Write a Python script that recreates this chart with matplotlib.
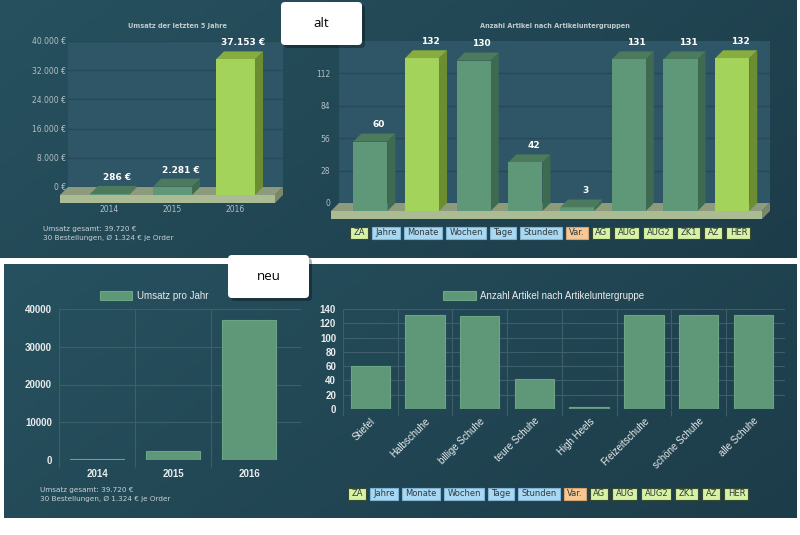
import numpy as np
import matplotlib
matplotlib.use('Agg')
import matplotlib.pyplot as plt
from matplotlib.patches import Polygon, Rectangle, FancyBboxPatch
from matplotlib.colors import LinearSegmentedColormap

W, H = 800, 535

# --- data -------------------------------------------------------------
jahre = ['2014', '2015', '2016']
umsatz = [286, 2281, 37153]
bestellungen = 30

gruppen = ['Stiefel', 'Halbschuhe', 'billige Schuhe', 'teure Schuhe',
           'High Heels', 'Freizeitschuhe', 'schöne Schuhe', 'alle Schuhe']
anzahl = [60, 132, 130, 42, 3, 131, 131, 132]

knoepfe = ['ZA', 'Jahre', 'Monate', 'Wochen', 'Tage', 'Stunden', 'Var.',
           'AG', 'AUG', 'AUG2', 'ZK1', 'AZ', 'HER']
knopf_art = ['za', 'zeit', 'zeit', 'zeit', 'zeit', 'zeit', 'var',
             'gruppe', 'gruppe', 'gruppe', 'gruppe', 'gruppe', 'gruppe']

# --- styles -----------------------------------------------------------
WALL = '#2e5666'
WALL_GRID = '#26485a'
OLD_TICK = '#b4c0c4'
GREEN = ('#5f9878', '#4b7a5c', '#3f6a52')   # front, top, side
LIME = ('#a3d35a', '#86ad3e', '#6d8d32')
FLOOR = ('#abbb94', '#8d9a7c', '#7b8868')  # front, top, side
NEW_BAR = '#5f9878'
GRID = '#3e5f6a'
KNOPF = {'za': ('#d6f2a4', '#3a4a30'), 'zeit': ('#a9d8f2', '#7fb4d4'),
         'var': ('#f5c895', '#d9a46e'), 'gruppe': ('#d6f2a4', '#3a4a30')}

plt.rcParams['font.family'] = 'DejaVu Sans'
fig = plt.figure(figsize=(W / 100, H / 100), dpi=100)
fig.patch.set_facecolor('white')


def ax_px(x0, y0, x1, y1):
    return fig.add_axes([x0 / W, 1 - y1 / H, (x1 - x0) / W, (y1 - y0) / H])


def de(v):
    return f'{v:,.0f}'.replace(',', '.')


# background with the two dark panels
bg = ax_px(0, 0, W, H)
bg.set_xlim(0, W)
bg.set_ylim(H, 0)
bg.axis('off')
bg_cmap = LinearSegmentedColormap.from_list('bg', ['#27515f', '#1d3c49'])
for (x0, y0, x1, y1) in [(0, 0, 797, 258), (4, 264, 797, 518)]:
    gx = np.linspace(0, 1, 200)
    gy = np.linspace(0, 1, 100)
    g = 0.7 * gx[None, :] + 0.3 * gy[:, None]
    bg.imshow(g, cmap=bg_cmap, extent=(x0, x1, y1, y0), aspect='auto',
              vmin=0, vmax=1, interpolation='bilinear')
bg.set_xlim(0, W)
bg.set_ylim(H, 0)


# --- old 3D-like charts -------------------------------------------------
def alt_chart(wall, ymax, step, vals, fmt, xlo, xhi, width, tick_pad,
              cats=None, d=8):
    x0, y0, x1, y1 = wall
    wb = ax_px(x0, y0, x1, y1)
    wb.set_facecolor(WALL)
    wb.set_xlim(0, 1)
    wb.set_ylim(0, ymax)
    ticks = np.arange(0, ymax + 1, step)
    if fmt is str:
        ticks = ticks[ticks <= ymax - step / 2]
    wb.set_yticks(ticks)
    wb.set_yticklabels([fmt(int(t)) for t in ticks])
    wb.set_xticks([])
    wb.tick_params(axis='y', length=0, pad=tick_pad, labelsize=5.5,
                   labelcolor=OLD_TICK)
    wb.grid(axis='y', color=WALL_GRID, lw=1)
    for s in wb.spines.values():
        s.set_visible(False)

    wf = ax_px(x0 - d, y0 + d, x1 - d, y1 + d)
    wf.patch.set_visible(False)
    wf.set_xlim(xlo, xhi)
    wf.set_ylim(0, ymax)
    for s in wf.spines.values():
        s.set_visible(False)
    wf.set_yticks([])
    if cats:
        wf.set_xticks(range(len(cats)))
        wf.set_xticklabels(cats)
        wf.tick_params(axis='x', length=0, pad=7.5, labelsize=5.5,
                       labelcolor=OLD_TICK)
    else:
        wf.set_xticks([])

    sx = (xhi - xlo) / (x1 - x0)
    sy = ymax / (y1 - y0)
    ddx, ddy, fh = d * sx, d * sy, 8 * sy

    # floor slab
    wf.add_patch(Polygon([(xlo, 0), (xhi, 0), (xhi + ddx, ddy), (xlo + ddx, ddy)],
                         fc=FLOOR[1], ec='none', clip_on=False, zorder=1))
    wf.add_patch(Rectangle((xlo, -fh), xhi - xlo, fh, fc=FLOOR[0], ec='none',
                           clip_on=False, zorder=1))
    wf.add_patch(Polygon([(xhi, 0), (xhi + ddx, ddy), (xhi + ddx, ddy - fh), (xhi, -fh)],
                         fc=FLOOR[2], ec='none', clip_on=False, zorder=1))

    top_val = max(vals)
    for i, v in enumerate(vals):
        front, top, side = LIME if v == top_val else GREEN
        l, r = i - width / 2, i + width / 2
        wf.add_patch(Polygon([(r, 0), (r + ddx, ddy), (r + ddx, v + ddy), (r, v)],
                             fc=side, ec='none', zorder=2, clip_on=False))
        wf.add_patch(Polygon([(l, v), (r, v), (r + ddx, v + ddy), (l + ddx, v + ddy)],
                             fc=top, ec='none', zorder=2, clip_on=False))
        wf.bar(i, v, width, color=front, zorder=3, clip_on=False)
        wf.annotate(fmt(v), (i + ddx, v + ddy), xytext=(0, 3),
                    textcoords='offset points', ha='center', va='bottom',
                    fontsize=6.5, fontweight='bold', color='white',
                    annotation_clip=False, zorder=4)
    return wb, wf


euro = lambda v: de(v) + ' €'
alt_chart((68, 41, 283, 187), 40000, 8000, umsatz, euro,
          -0.786, 2.627, 0.62, 1.5, cats=jahre)
alt_chart((339, 41, 770, 203), 140, 28, anzahl, str,
          -0.76, 7.577, 0.66, 6.5)

bg.text(177, 26, 'Umsatz der letzten 5 Jahre', ha='center', va='center',
        fontsize=4.8, fontweight='bold', color='#c0cace')
bg.text(555, 26, 'Anzahl Artikel nach Artikeluntergruppen', ha='center',
        va='center', fontsize=4.8, fontweight='bold', color='#c0cace')

footer = [f'Umsatz gesamt: {de(sum(umsatz))} €',
          f'{bestellungen} Bestellungen, Ø {de(sum(umsatz) / bestellungen)} € je Order']
for (fx, fy) in [(43, 229), (40, 490)]:
    for k, line in enumerate(footer):
        bg.text(fx, fy + 9 * k, line, ha='left', va='center', fontsize=5.2,
                color='#c8d2d6')


# --- new flat charts ----------------------------------------------------
NEWFONT = 'Liberation Sans'


def neu_chart(box, cats, vals, ymax, step, xhi, width, label, legend_c,
              rot=0):
    ax = ax_px(*box)
    ax.patch.set_visible(False)
    n = len(vals)
    bars = ax.bar(range(n), vals, width, color=NEW_BAR, edgecolor='#6aa584',
                  lw=0.8, label=label, zorder=2)
    ax.set_xlim(-0.5, xhi)
    ax.set_ylim(0, ymax)
    ax.set_yticks(np.arange(0, ymax + 1, step))
    ax.set_xticks(range(n))
    ax.set_xticks(np.arange(n) - 0.5, minor=True)
    ax.grid(axis='y', which='major', color=GRID, lw=0.8, alpha=1)
    ax.grid(axis='x', which='minor', color=GRID, lw=0.8, alpha=1)
    ax.tick_params(axis='x', which='minor', length=5, color=GRID, width=0.8)
    ax.tick_params(axis='y', length=0, pad=5)
    for s in ax.spines.values():
        s.set_visible(False)
    for t in ax.get_yticklabels():
        t.set_fontfamily(NEWFONT)
        t.set_fontsize(7)
        t.set_fontweight('bold')
        t.set_color('#e8ecec')
    if rot:
        ax.set_xticklabels(cats, rotation=rot, ha='right',
                           rotation_mode='anchor', family=NEWFONT,
                           fontsize=7, color='#e8ecec')
        ax.tick_params(axis='x', which='major', length=0, pad=5)
    else:
        ax.set_xticklabels(cats, family=NEWFONT, fontsize=7,
                           fontweight='bold', color='#e8ecec')
        ax.tick_params(axis='x', which='major', length=0, pad=6.5)
    fig.legend(handles=[bars], labels=[label], loc='center',
               bbox_to_anchor=(legend_c[0] / W, 1 - legend_c[1] / H),
               frameon=False, prop={'family': NEWFONT, 'size': 7},
               labelcolor='#e8ecec', handlelength=3.3, handleheight=1.0,
               handletextpad=0.5, borderpad=0)
    return ax


neu_chart((59, 309, 301, 460), jahre, umsatz, 40000, 10000, 2.684, 0.7,
          'Umsatz pro Jahr', (154.5, 296))
neu_chart((343, 309, 785, 409), gruppen, anzahl, 140, 20, 7.58, 0.72,
          'Anzahl Artikel nach Artikeluntergruppe', (544, 296), rot=45)

# --- button rows ----------------------------------------------------------
fig.canvas.draw()
renderer = fig.canvas.get_renderer()
for (bx, by) in [(350, 232.5), (348, 494)]:
    x = bx
    for lab, art in zip(knoepfe, knopf_art):
        fc, ec = KNOPF[art]
        t = bg.text(0, by, lab, ha='center', va='center', fontsize=6,
                    color='#303a3e', zorder=5)
        w = t.get_window_extent(renderer).width
        bw = w + 6.6
        bg.add_patch(Rectangle((x, by - 6), bw, 12, fc=fc, ec=ec, lw=0.8,
                               zorder=4))
        t.set_x(x + bw / 2)
        x += bw + 3.9

# --- alt / neu labels -----------------------------------------------------
ov = ax_px(0, 0, W, H)
ov.set_xlim(0, W)
ov.set_ylim(H, 0)
ov.axis('off')
for (lx, ly, lw_, lh, txt) in [(281, 2, 81, 43, 'alt'), (228, 255, 81, 43, 'neu')]:
    ov.add_patch(FancyBboxPatch((lx + 3, ly + 3), lw_, lh,
                                boxstyle='round,pad=0,rounding_size=4',
                                fc='black', ec='none', alpha=0.3))
    ov.add_patch(FancyBboxPatch((lx, ly), lw_, lh,
                                boxstyle='round,pad=0,rounding_size=4',
                                fc='white', ec='none'))
    ov.text(lx + lw_ / 2, ly + lh / 2, txt, ha='center', va='center',
            fontsize=9.5, family='Open Sans', color='black')

fig.savefig('out.png', dpi=100)
